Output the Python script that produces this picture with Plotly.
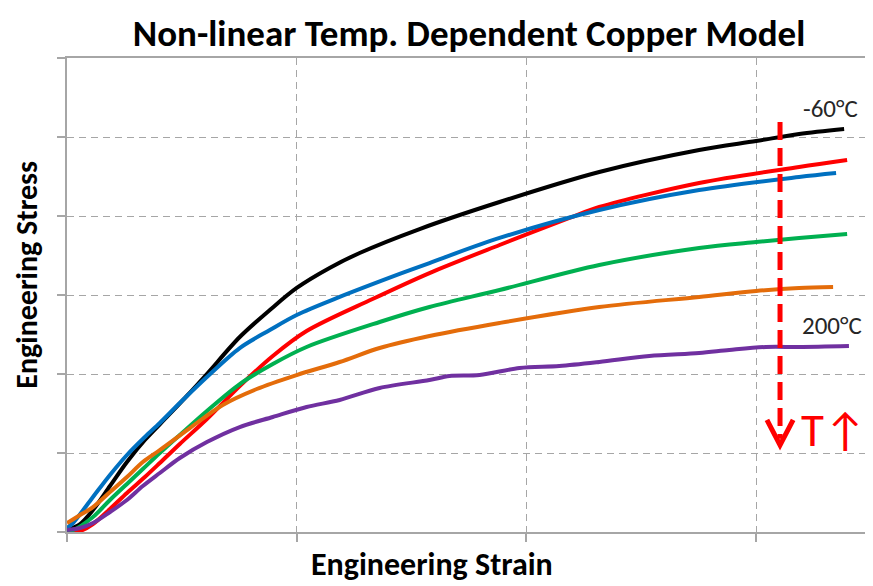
import plotly.graph_objects as go

# ---- data (engineering strain / engineering stress, arbitrary units) ----
black_x = [0, 0.057, 0.113, 0.187, 0.261, 0.339, 0.435, 0.522, 0.609, 0.752, 0.883, 1.000, 1.143, 1.274, 1.535, 1.883, 2.317, 2.752, 3.000, 3.187, 3.383]
black_y = [0.025, 0.101, 0.278, 0.582, 0.886, 1.165, 1.456, 1.722, 2.000, 2.468, 2.810, 3.089, 3.342, 3.532, 3.835, 4.177, 4.557, 4.835, 4.949, 5.038, 5.101]

red_x = [0, 0.057, 0.113, 0.187, 0.261, 0.339, 0.404, 0.491, 0.609, 0.752, 0.896, 1.043, 1.330, 1.578, 1.883, 2.187, 2.317, 2.752, 3.187, 3.396]
red_y = [0, 0.013, 0.101, 0.291, 0.494, 0.696, 0.873, 1.114, 1.430, 1.848, 2.228, 2.544, 2.949, 3.278, 3.633, 3.975, 4.114, 4.418, 4.620, 4.709]

blue_x = [0, 0.026, 0.113, 0.187, 0.261, 0.339, 0.404, 0.491, 0.609, 0.752, 0.883, 1.000, 1.187, 1.448, 1.578, 1.883, 2.317, 2.752, 3.187, 3.348]
blue_y = [0.051, 0.114, 0.443, 0.722, 0.975, 1.203, 1.380, 1.633, 1.962, 2.329, 2.557, 2.747, 2.975, 3.266, 3.405, 3.722, 4.076, 4.329, 4.494, 4.544]

green_x = [0, 0.026, 0.113, 0.187, 0.261, 0.330, 0.404, 0.491, 0.609, 0.752, 0.896, 1.043, 1.361, 1.578, 1.883, 2.317, 2.752, 3.000, 3.187, 3.396]
green_y = [0.025, 0.025, 0.190, 0.405, 0.608, 0.797, 1.000, 1.228, 1.532, 1.873, 2.127, 2.342, 2.658, 2.848, 3.063, 3.380, 3.595, 3.671, 3.722, 3.772]

orange_x = [0, 0.057, 0.113, 0.187, 0.261, 0.330, 0.404, 0.535, 0.678, 0.826, 1.000, 1.187, 1.361, 1.578, 1.883, 2.317, 2.752, 3.000, 3.187, 3.335]
orange_y = [0.114, 0.215, 0.316, 0.506, 0.696, 0.886, 1.038, 1.316, 1.608, 1.810, 1.987, 2.152, 2.329, 2.481, 2.646, 2.848, 2.975, 3.051, 3.089, 3.101]

purple_x = [0, 0.057, 0.113, 0.187, 0.261, 0.330, 0.404, 0.491, 0.609, 0.752, 0.896, 1.043, 1.187, 1.361, 1.578, 1.665, 1.796, 1.970, 2.143, 2.317, 2.535, 2.752, 2.883, 3.043, 3.187, 3.404]
purple_y = [0.025, 0.051, 0.114, 0.253, 0.405, 0.582, 0.747, 0.937, 1.139, 1.329, 1.456, 1.582, 1.671, 1.823, 1.924, 1.975, 1.987, 2.076, 2.101, 2.152, 2.228, 2.266, 2.304, 2.342, 2.342, 2.354]

series = [
    ("-60°C", black_x, black_y, "#000000"),
    ("T2", red_x, red_y, "#FF0000"),
    ("T3", blue_x, blue_y, "#0070C0"),
    ("T4", green_x, green_y, "#00B050"),
    ("T5", orange_x, orange_y, "#E46C0A"),
    ("200°C", purple_x, purple_y, "#7030A0"),
]

x_range = [0, 3.5]
y_range = [0, 6]

# temperature arrow annotation
arrow_x = 3.104
arrow_top = 5.19
arrow_tip = 1.10
head_len = 0.32
head_half = 0.057

FONT = "Carlito, Lato, 'Open Sans', sans-serif"

fig = go.Figure()
for name, xs, ys, col in series:
    fig.add_trace(go.Scatter(x=xs, y=ys, mode="lines", name=name,
                             line=dict(color=col, width=4, shape="spline", smoothing=0.9)))

grid = dict(showgrid=True, gridcolor="#A6A6A6", griddash="7px,5px", gridwidth=1.3,
            showline=True, linecolor="#A6A6A6", linewidth=2, mirror=True,
            ticks="outside", ticklen=8, tickcolor="#A6A6A6", tickwidth=2,
            showticklabels=False, zeroline=False, dtick=1, tick0=0, automargin=False)

fig.update_xaxes(range=x_range, **grid)
fig.update_yaxes(range=y_range, **grid)

# dashed arrow shaft and head
fig.add_shape(type="line", x0=arrow_x, x1=arrow_x, y0=arrow_top, y1=arrow_tip + 0.08,
              xref="x", yref="y", line=dict(color="#FF0000", width=5, dash="18px,8px"))
fig.add_shape(type="path",
              path=f"M {arrow_x - head_half},{arrow_tip + head_len} L {arrow_x},{arrow_tip} L {arrow_x + head_half},{arrow_tip + head_len}",
              xref="x", yref="y", line=dict(color="#FF0000", width=5))

fig.add_annotation(x=3.322, y=5.367, xref="x", yref="y", text="-60°C", showarrow=False,
                   font=dict(family=FONT, size=25, color="#262626"))
fig.add_annotation(x=3.33, y=2.61, xref="x", yref="y", text="200°C", showarrow=False,
                   font=dict(family=FONT, size=25, color="#262626"))
fig.add_annotation(x=3.335, y=1.29, xref="x", yref="y", text="T↑", showarrow=False,
                   font=dict(family=FONT, size=47, color="#FF0000"))

fig.add_annotation(x=0.454, y=-0.0696, xref="paper", yref="paper", text="<b>Engineering Strain</b>",
                   showarrow=False, font=dict(family=FONT, size=32, color="#000000"),
                   xanchor="center", yanchor="middle")
fig.add_annotation(x=-0.0515, y=0.542, xref="paper", yref="paper", text="<b>Engineering Stress</b>",
                   showarrow=False, textangle=-90, font=dict(family=FONT, size=30, color="#000000"),
                   xanchor="center", yanchor="middle", borderpad=0)

# page body has an 8px margin, so the figure is sized/offset to compensate
fig.update_layout(
    width=865, height=578,
    margin=dict(l=59, r=2, t=50, b=54),
    paper_bgcolor="white", plot_bgcolor="white",
    showlegend=False,
    title=dict(text="<b>Non-linear Temp. Dependent Copper Model</b>", x=0.5, xref="paper",
               y=0.956, yref="container", xanchor="center", yanchor="middle",
               font=dict(family=FONT, size=37, color="#000000")),
)

fig.write_html("out.html")
